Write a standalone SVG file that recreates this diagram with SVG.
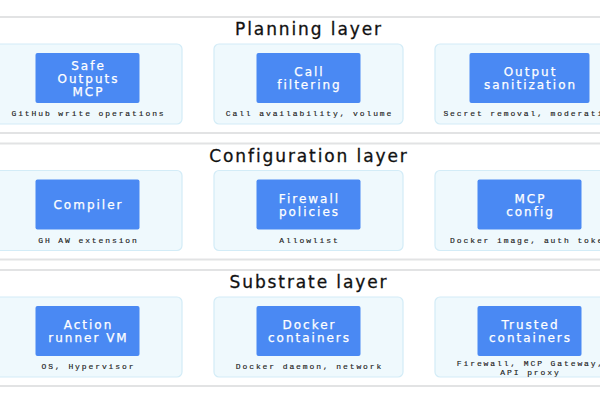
<svg xmlns="http://www.w3.org/2000/svg" width="600" height="400" viewBox="0 0 600 400">
<style>
.panel{fill:#ffffff;stroke:#e2e3e4;stroke-width:2}
.card{fill:#eff9fd;stroke:#d3ecf7;stroke-width:1.2}
.box{fill:#4a89f3}
.title{font-family:"DejaVu Sans",sans-serif;font-size:17px;letter-spacing:1.9px;fill:#111;stroke:#111;stroke-width:0.3;text-anchor:middle}
.lbl{font-family:"DejaVu Sans",sans-serif;font-size:12px;letter-spacing:2px;fill:#ffffff;stroke:#ffffff;stroke-width:0.25;text-anchor:middle}
.cap{font-family:"Liberation Mono",monospace;font-size:8px;letter-spacing:1.9px;fill:#222;stroke:#222;stroke-width:0.15;text-anchor:middle}
</style>
<rect width="600" height="400" fill="#ffffff"/>
<g id="planning-layer">
<rect class="panel" x="-10" y="17" width="620" height="116"/>
<text class="title" x="309" y="35">Planning layer</text>
</g>
<g id="configuration-layer">
<rect class="panel" x="-10" y="143.5" width="620" height="116"/>
<text class="title" x="309" y="161.5">Configuration layer</text>
</g>
<g id="substrate-layer">
<rect class="panel" x="-10" y="270" width="620" height="116"/>
<text class="title" x="309" y="288">Substrate layer</text>
</g>
<g id="safe-outputs">
<rect class="card" x="-7" y="44" width="189" height="80" rx="5"/>
<rect class="box" x="35.5" y="53" width="104" height="50" rx="2"/>
<text class="lbl" x="88.5" y="69.5">Safe</text>
<text class="lbl" x="88.5" y="82.5">Outputs</text>
<text class="lbl" x="88.5" y="95.5">MCP</text>
<text class="cap" x="88.5" y="116">GitHub write operations</text>
</g>
<g id="call-filtering">
<rect class="card" x="214" y="44" width="189" height="80" rx="5"/>
<rect class="box" x="256.5" y="53" width="104" height="50" rx="2"/>
<text class="lbl" x="309.5" y="76">Call</text>
<text class="lbl" x="309.5" y="89">filtering</text>
<text class="cap" x="309.5" y="116">Call availability, volume</text>
</g>
<g id="output-sanitization">
<rect class="card" x="435" y="44" width="189" height="80" rx="5"/>
<rect class="box" x="469.5" y="53" width="120" height="50" rx="2"/>
<text class="lbl" x="530.5" y="76">Output</text>
<text class="lbl" x="530.5" y="89">sanitization</text>
<text class="cap" x="530.5" y="116">Secret removal, moderation</text>
</g>
<g id="compiler">
<rect class="card" x="-7" y="170.5" width="189" height="80" rx="5"/>
<rect class="box" x="35.5" y="179.5" width="104" height="50" rx="2"/>
<text class="lbl" x="88.5" y="209">Compiler</text>
<text class="cap" x="88.5" y="242.5">GH AW extension</text>
</g>
<g id="firewall-policies">
<rect class="card" x="214" y="170.5" width="189" height="80" rx="5"/>
<rect class="box" x="256.5" y="179.5" width="104" height="50" rx="2"/>
<text class="lbl" x="309.5" y="202.5">Firewall</text>
<text class="lbl" x="309.5" y="215.5">policies</text>
<text class="cap" x="309.5" y="242.5">Allowlist</text>
</g>
<g id="mcp-config">
<rect class="card" x="435" y="170.5" width="189" height="80" rx="5"/>
<rect class="box" x="477.5" y="179.5" width="104" height="50" rx="2"/>
<text class="lbl" x="530.5" y="202.5">MCP</text>
<text class="lbl" x="530.5" y="215.5">config</text>
<text class="cap" x="530.5" y="242.5">Docker image, auth token</text>
</g>
<g id="action-runner">
<rect class="card" x="-7" y="297" width="189" height="80" rx="5"/>
<rect class="box" x="35.5" y="306" width="104" height="50" rx="2"/>
<text class="lbl" x="88.5" y="329">Action</text>
<text class="lbl" x="88.5" y="342">runner VM</text>
<text class="cap" x="88.5" y="369">OS, Hypervisor</text>
</g>
<g id="docker-containers">
<rect class="card" x="214" y="297" width="189" height="80" rx="5"/>
<rect class="box" x="256.5" y="306" width="104" height="50" rx="2"/>
<text class="lbl" x="309.5" y="329">Docker</text>
<text class="lbl" x="309.5" y="342">containers</text>
<text class="cap" x="309.5" y="369">Docker daemon, network</text>
</g>
<g id="trusted-containers">
<rect class="card" x="435" y="297" width="189" height="80" rx="5"/>
<rect class="box" x="477.5" y="306" width="104" height="50" rx="2"/>
<text class="lbl" x="530.5" y="329">Trusted</text>
<text class="lbl" x="530.5" y="342">containers</text>
<text class="cap" x="530.5" y="365.5">Firewall, MCP Gateway,</text>
<text class="cap" x="530.5" y="375">API proxy</text>
</g>
<g id="connectors"></g>
</svg>
